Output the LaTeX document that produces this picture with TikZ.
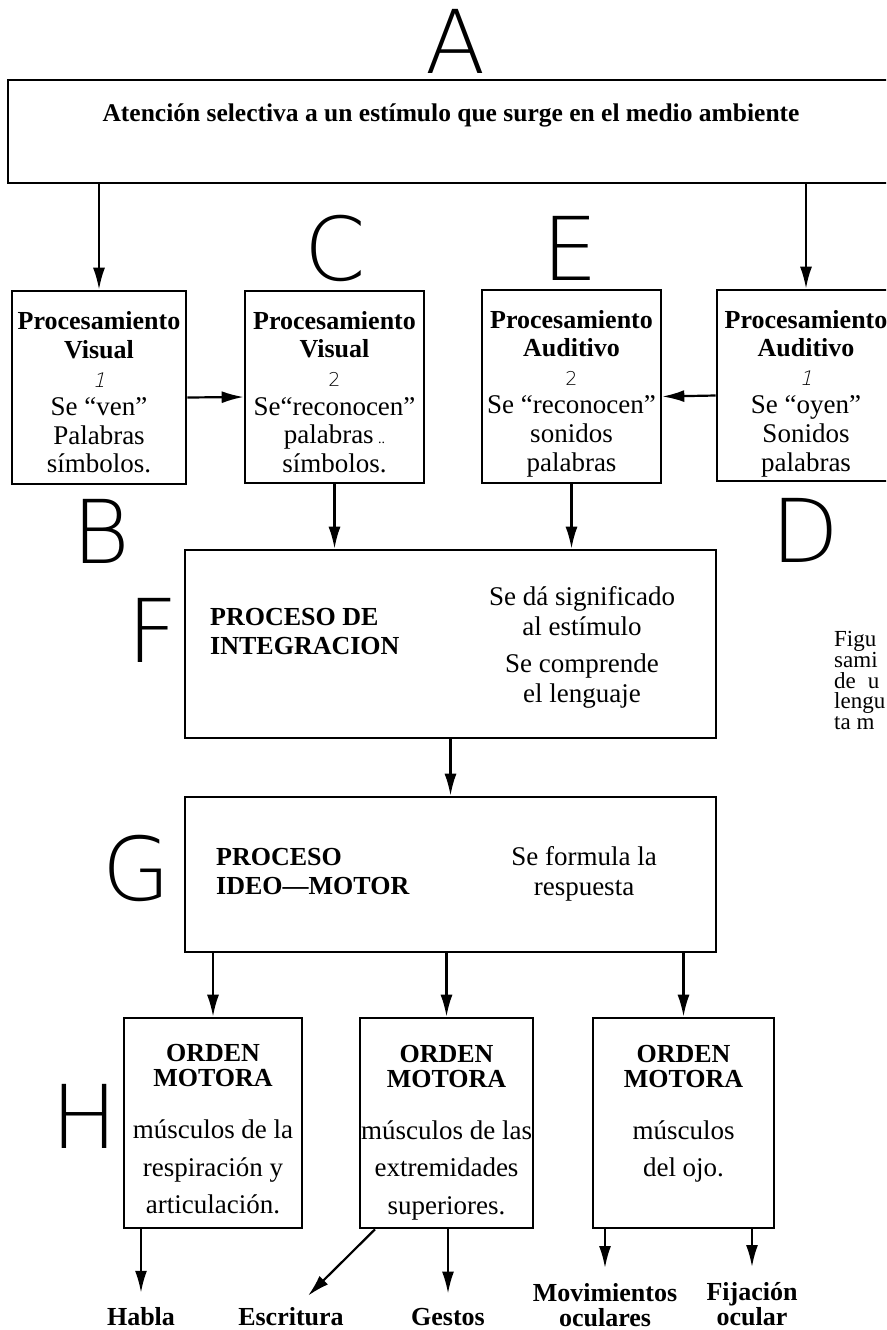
\documentclass[tikz,border=0pt]{standalone}
\usepackage{fontspec}
\setmainfont{Liberation Serif}
\IfFontExistsTF{DejaVu Sans ExtraLight}
  {\newfontfamily\letrafont{DejaVu Sans ExtraLight}
   \newfontfamily\inclinada[FakeSlant=0.25]{DejaVu Sans ExtraLight}}
  {\newfontfamily\letrafont{DejaVu Sans}
   \newfontfamily\inclinada[FakeSlant=0.25]{DejaVu Sans}}
\usetikzlibrary{arrows.meta}

\newcommand\letra{\letrafont\fontsize{88}{88}\selectfont}
\newcommand\negrita{\bfseries\fontsize{26}{29}\selectfont}
\newcommand\cuerpo{\fontsize{27}{28.6}\selectfont}
\newcommand\ordenfont{\fontsize{27}{37.5}\selectfont}
\newcommand\salidafont{\bfseries\fontsize{26}{25}\selectfont}
\newcommand\leyendafont{\fontsize{23}{20.8}\selectfont\lineskiplimit=-10pt\relax}
\newcommand\uno{{\inclinada\fontsize{20}{20}\selectfont 1}}
\newcommand\dos{{\letrafont\fontsize{19}{19}\selectfont 2}}
% strut that pushes the first line of a box down
\newcommand\alto[1]{\rule{0pt}{#1}}

\tikzset{
    block/.style = {draw, rectangle, line width=2.6pt, inner sep=0pt,
        align=center, font=\cuerpo},
    letra/.style = {font=\letra, inner sep=0pt},
    texto/.style = {inner sep=0pt},
    salida/.style = {inner sep=0pt, align=center, font=\salidafont},
    arrow/.style = {draw, ->, line width=2.2pt}
}

\begin{document}
\begin{tikzpicture}[auto, x=1pt, y=-1pt, >={Latex[length=22pt,width=12pt]}]
    \useasboundingbox (0,0) rectangle (886,1330);
    \clip (0,0) rectangle (886,1330);
    \foreach \l/\px/\py in {A/456/41, C/335/248, E/570/248, B/101/531,
                            D/805/530, F/153/630, G/137/868, H/85/1116}
        \node [letra] (letra\l) at (\px,\py) {\l};

    \node [block, minimum width=892pt, minimum height=103pt] (atencion) at (454,131.5) {};
    \node [texto, anchor=base, font=\bfseries\fontsize{25.5}{30}\selectfont] (atenciontxt) at (451,121)
        {Atención selectiva a un estímulo que surge en el medio ambiente};

    \node [block, minimum width=174pt, minimum height=193pt] (visual1) at (99,387.5)
        {{\negrita\alto{28pt}Procesamiento}\\{\negrita Visual}\\\uno\\Se ``ven''\\Palabras\\símbolos.};
    \node [block, minimum width=179pt, minimum height=192pt] (visual2) at (334.5,387)
        {{\negrita\alto{28pt}Procesamiento}\\{\negrita Visual}\\\dos\\Se``reconocen''\\palabras\,{\fontsize{14}{14}\selectfont..}\\símbolos.};
    \node [block, minimum width=179pt, minimum height=193pt] (auditivo2) at (571.5,386.5)
        {{\negrita\alto{32pt}Procesamiento}\\{\negrita Auditivo}\\\dos\\Se ``reconocen''\\sonidos\\palabras};
    \node [block, minimum width=178pt, minimum height=191pt] (auditivo1) at (806,385.5)
        {{\negrita\alto{34pt}Procesamiento}\\{\negrita Auditivo}\\\uno\\Se ``oyen''\\Sonidos\\palabras};
    \draw [arrow] (atencion.south -| visual1) -- (visual1);
    \draw [arrow] (atencion.south -| auditivo1) -- (auditivo1);
    \draw [arrow] ([yshift=-10pt]visual1.east) -- ([yshift=-10pt]visual2.west);
    \draw [arrow] ([yshift=-10pt]auditivo1.west) -- ([yshift=-10pt]auditivo2.east);

    \node [block, minimum width=531pt, minimum height=188pt] (integracion) at (450.5,644) {};
    \node [texto, anchor=west, align=left, font=\negrita] (integtxt) at (210,632)
        {PROCESO DE\\INTEGRACION};
    \node [texto, align=center, font=\fontsize{27}{30}\selectfont] (integder) at (582,647)
        {Se dá significado\\al estímulo\\[7pt]Se comprende\\el lenguaje};
    \draw [arrow] (visual2) -- (visual2 |- integracion.north);
    \draw [arrow] (auditivo2) -- (auditivo2 |- integracion.north);

    \node [block, minimum width=531pt, minimum height=155pt] (ideomotor) at (450.5,874.5) {};
    \node [texto, anchor=west, align=left, font=\negrita] (ideotxt) at (216,872)
        {PROCESO\\IDEO---MOTOR};
    \node [texto, align=center, font=\fontsize{27}{30}\selectfont] (ideoder) at (584,874)
        {Se formula la\\respuesta};
    \draw [arrow] (integracion) -- (ideomotor);

    \node [block, minimum width=178pt, minimum height=210pt, font=\ordenfont] (orden1) at (213,1123)
        {{\negrita\alto{30pt}ORDEN}\\[-12.5pt]{\negrita MOTORA}\\[14.5pt]músculos de la\\respiración y\\articulación.};
    \node [block, minimum width=173pt, minimum height=210pt, font=\ordenfont] (orden2) at (446.5,1123)
        {{\negrita\alto{36pt}ORDEN}\\[-12.5pt]{\negrita MOTORA}\\[14.5pt]músculos de las\\extremidades\\superiores.};
    \node [block, minimum width=181pt, minimum height=210pt, font=\ordenfont] (orden3) at (683.5,1123)
        {{\negrita ORDEN}\\[-12.5pt]{\negrita MOTORA}\\[14.5pt]músculos\\del ojo.\\[-12.8pt]\mbox{}};
    \foreach \a in {1,2,3}
        \draw [arrow] (ideomotor.south -| orden\a) -- (orden\a);

    \node [salida, anchor=base] (habla) at (141,1325) {Habla};
    \node [salida, anchor=base] (escritura) at (291,1325) {Escritura};
    \node [salida, anchor=base] (gestos) at (448,1325) {Gestos};
    \node [salida, anchor=north] (movimientos) at (605,1283) {Movimientos\\oculares};
    \node [salida, anchor=north] (fijacion) at (752,1282) {Fijación\\ocular};
    \draw [arrow] (orden1.south -| habla) -- ([yshift=14pt]habla.north);
    \draw [arrow] ([xshift=-71.5pt]orden2.south) -- ([xshift=17pt,yshift=11pt]escritura.north);
    \draw [arrow] (orden2.south -| gestos) -- ([yshift=14pt]gestos.north);
    \draw [arrow] (orden3.south -| movimientos) -- ([yshift=15pt]movimientos.north);
    \draw [arrow] (orden3.south -| fijacion) -- ([yshift=15pt]fijacion.north);

    \node [texto, anchor=north west, align=left, font=\leyendafont] (leyenda) at (834,631)
        {Figu\\sami\\de\hspace{12pt}u\\lengu\\ta m};
\end{tikzpicture}
\end{document}
